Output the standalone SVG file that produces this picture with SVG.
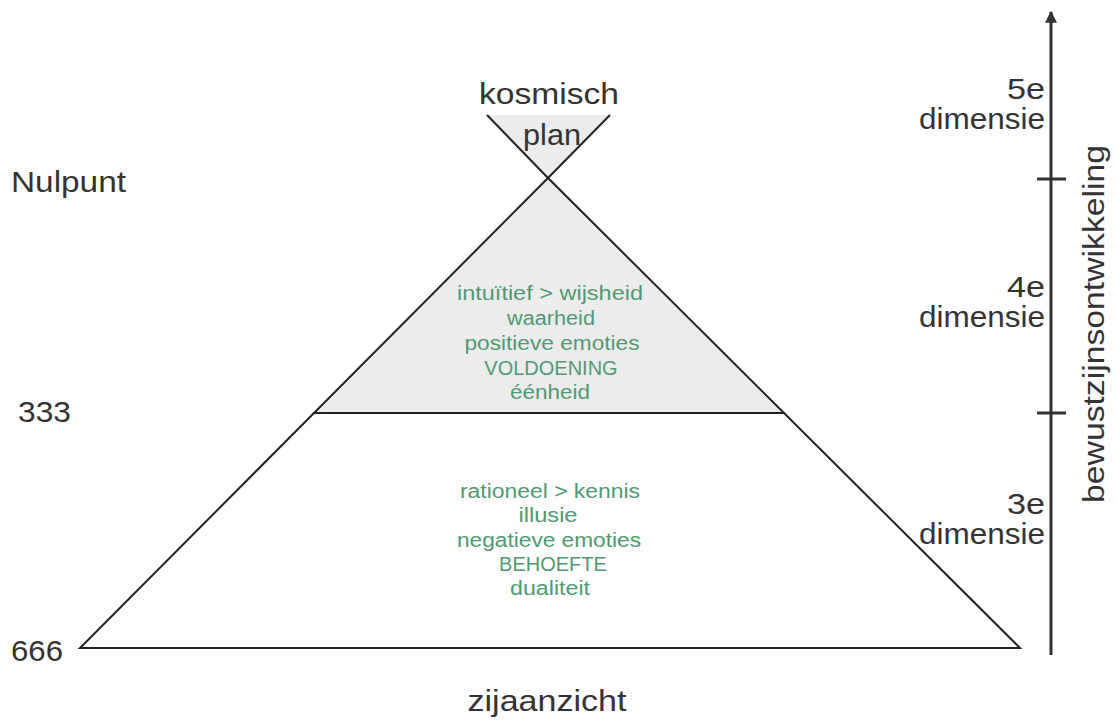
<svg xmlns="http://www.w3.org/2000/svg" width="1118" height="726" viewBox="0 0 1118 726">
<style>
.lbl{font-family:"Liberation Sans",Arial,sans-serif;fill:#333;font-size:30px}
.g{font-family:"Liberation Sans",Arial,sans-serif;fill:#4f9a72;font-size:20px;text-anchor:middle}
.ln{stroke:#222;stroke-width:2;fill:none}
.ax{stroke:#333;stroke-width:3;fill:none}
</style>
<defs>
<marker id="arr" viewBox="0 0 10 10" refX="9" refY="5" markerWidth="4" markerHeight="4" orient="auto">
<path d="M0,0 L10,5 L0,10 z" fill="#333"/>
</marker>
</defs>
<rect width="1118" height="726" fill="#fff"/>
<g id="cosmic-plan">
<polygon points="487,115 610,115 548,178" fill="#ececec" stroke="none"/>
<line class="ln" x1="487" y1="115" x2="548" y2="178"/>
<line class="ln" x1="610" y1="115" x2="548" y2="178"/>
<text class="lbl" x="549" y="104" text-anchor="middle" textLength="140" lengthAdjust="spacingAndGlyphs">kosmisch</text>
<text class="lbl" x="552" y="145" text-anchor="middle" textLength="58" lengthAdjust="spacingAndGlyphs">plan</text>
</g>
<g id="upper">
<polygon points="548,178 314,413 784,413" fill="#ececec" stroke="#222" stroke-width="2"/>
<text class="g" x="550" y="300" textLength="186" lengthAdjust="spacingAndGlyphs">intuïtief &gt; wijsheid</text>
<text class="g" x="551" y="325" textLength="88" lengthAdjust="spacingAndGlyphs">waarheid</text>
<text class="g" x="552" y="350" textLength="175" lengthAdjust="spacingAndGlyphs">positieve emoties</text>
<text class="g" x="551" y="375" font-size="19.5">VOLDOENING</text>
<text class="g" x="550" y="399" textLength="80" lengthAdjust="spacingAndGlyphs">éénheid</text>
</g>
<g id="lower">
<polygon points="314,413 784,413 1020,648 80,648" fill="#fff" stroke="#222" stroke-width="2"/>
<text class="g" x="550" y="498" textLength="180" lengthAdjust="spacingAndGlyphs">rationeel &gt; kennis</text>
<text class="g" x="548" y="522" textLength="59" lengthAdjust="spacingAndGlyphs">illusie</text>
<text class="g" x="549" y="547" textLength="184" lengthAdjust="spacingAndGlyphs">negatieve emoties</text>
<text class="g" x="553" y="571" font-size="19">BEHOEFTE</text>
<text class="g" x="550" y="595" textLength="80" lengthAdjust="spacingAndGlyphs">dualiteit</text>
</g>
<g id="left-labels">
<text class="lbl" x="11" y="192" textLength="115" lengthAdjust="spacingAndGlyphs">Nulpunt</text>
<text class="lbl" x="18" y="422" textLength="53" lengthAdjust="spacingAndGlyphs">333</text>
<text class="lbl" x="11" y="661" textLength="52" lengthAdjust="spacingAndGlyphs">666</text>
<text class="lbl" x="547" y="711" text-anchor="middle" textLength="159" lengthAdjust="spacingAndGlyphs">zijaanzicht</text>
</g>
<g id="connectors">
<line class="ax" x1="1051" y1="655" x2="1051" y2="12" marker-end="url(#arr)"/>
<line class="ax" x1="1037" y1="179" x2="1066" y2="179"/>
<line class="ax" x1="1037" y1="413" x2="1066" y2="413"/>
</g>
<g id="dimensions">
<text class="lbl" x="1045" y="99" text-anchor="end" textLength="38" lengthAdjust="spacingAndGlyphs">5e</text>
<text class="lbl" x="1045" y="129" text-anchor="end" textLength="126" lengthAdjust="spacingAndGlyphs">dimensie</text>
<text class="lbl" x="1045" y="297" text-anchor="end" textLength="38" lengthAdjust="spacingAndGlyphs">4e</text>
<text class="lbl" x="1045" y="327" text-anchor="end" textLength="126" lengthAdjust="spacingAndGlyphs">dimensie</text>
<text class="lbl" x="1045" y="514" text-anchor="end" textLength="38" lengthAdjust="spacingAndGlyphs">3e</text>
<text class="lbl" x="1045" y="544" text-anchor="end" textLength="126" lengthAdjust="spacingAndGlyphs">dimensie</text>
<text class="lbl" transform="translate(1104,324) rotate(-90)" text-anchor="middle" textLength="358" lengthAdjust="spacingAndGlyphs">bewustzijnsontwikkeling</text>
</g>
</svg>
